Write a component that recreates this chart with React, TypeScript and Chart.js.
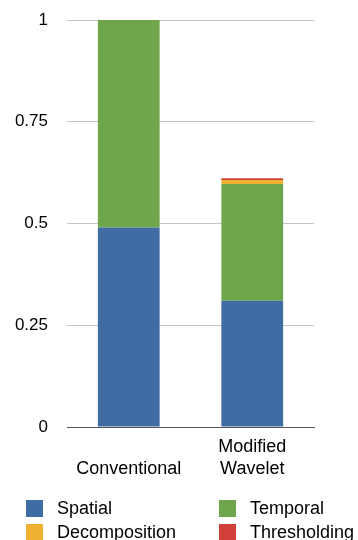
import React, { useEffect, useRef } from "react";
import { Chart, registerables } from "chart.js";

Chart.register(...registerables);

const categories: string[][] = [["", "Conventional"], ["Modified", "Wavelet"]];
const spatial = [0.49, 0.31];
const temporal = [0.51, 0.287];
const decomposition = [0, 0.01];
const thresholding = [0, 0.004];
const yTicks = [0, 0.25, 0.5, 0.75, 1];

const seriesNames = ["Spatial", "Temporal", "Decomposition", "Thresholding"];
const colors = ["#3e6ca3", "#6fa64c", "#efb132", "#d1403a"];

const FONT = "'Liberation Sans', Helvetica, Arial, sans-serif";

export default function App() {
  const ref = useRef<HTMLCanvasElement | null>(null);

  useEffect(() => {
    if (!ref.current) return;
    const values = [spatial, temporal, decomposition, thresholding];
    const chart = new Chart(ref.current, {
      type: "bar",
      data: {
        labels: categories as any,
        datasets: values.map((v, i) => ({
          label: seriesNames[i],
          data: v,
          backgroundColor: colors[i],
          borderWidth: 0,
          barPercentage: 0.5,
          categoryPercentage: 1,
        })),
      },
      options: {
        animation: false,
        responsive: false,
        maintainAspectRatio: false,
        layout: { padding: { top: 20, left: 14, right: 44, bottom: 61 } },
        plugins: { legend: { display: false }, tooltip: { enabled: false } },
        scales: {
          x: {
            stacked: true,
            grid: { display: false, drawTicks: false },
            border: { display: true, color: "#555555", width: 1 },
            afterFit: (axis: any) => {
              axis.height = 52;
              axis.paddingLeft = 0;
              axis.paddingRight = 0;
            },
            ticks: {
              color: "#000",
              font: { family: FONT, size: 18, lineHeight: 1.17 },
              padding: 10,
              maxRotation: 0,
              autoSkip: false,
            },
          },
          y: {
            stacked: true,
            min: 0,
            max: 1,
            afterBuildTicks: (axis: any) => {
              axis.ticks = yTicks.map((v) => ({ value: v }));
            },
            afterFit: (axis: any) => {
              axis.width = 53;
              axis.paddingTop = 0;
              axis.paddingBottom = 0;
            },
            grid: { color: "#c4c4c4", drawTicks: false, lineWidth: 1 },
            border: { display: false },
            ticks: {
              color: "#000",
              font: { family: FONT, size: 17 },
              padding: 19,
              callback: (v: any) => String(Number(v)),
            },
          },
        },
      },
    });
    return () => chart.destroy();
  }, []);

  const legendItem = (i: number, left: number, top: number) => (
    <div
      key={i}
      style={{
        position: "absolute",
        left,
        top,
        display: "flex",
        alignItems: "center",
        fontFamily: FONT,
        fontSize: 18,
        color: "#000",
        whiteSpace: "nowrap",
        lineHeight: "18px",
      }}
    >
      <span
        style={{
          display: "inline-block",
          width: 17,
          height: 17,
          background: colors[i],
          marginRight: 14,
        }}
      />
      <span>{seriesNames[i]}</span>
    </div>
  );

  return (
    <div
      style={{
        position: "absolute",
        left: 0,
        top: 0,
        width: 358,
        height: 540,
        overflow: "hidden",
        background: "#fff",
      }}
    >
      <canvas ref={ref} width={358} height={540} style={{ display: "block" }} />
      {legendItem(0, 26, 499)}
      {legendItem(1, 219, 499)}
      {legendItem(2, 26, 523)}
      {legendItem(3, 219, 523)}
    </div>
  );
}
